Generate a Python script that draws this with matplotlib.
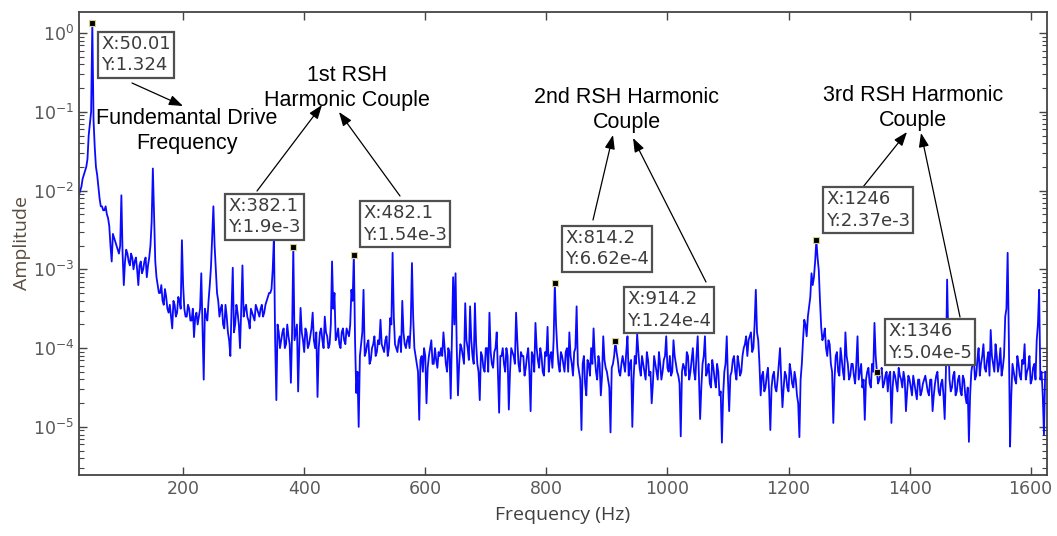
import numpy as np
import matplotlib.pyplot as plt
from matplotlib.ticker import LogLocator, NullFormatter

# spectrum, log10(amplitude) every 4 Hz starting at 26 Hz (one row = 100 Hz)
rows = [
    [-2.10, -2.00, -1.85, -1.75, -1.60, -1.15, 0.122, -1.45, -1.80, -2.10, -2.20, -2.25, -2.30,
     -2.45, -2.90, -2.60, -2.70, -2.80, -2.06, -3.20, -2.75, -2.90, -2.80, -3.00, -2.85],
    [-3.20, -2.90, -3.00, -2.85, -2.95, -2.70, -1.72, -2.90, -3.20, -3.30, -3.40, -3.25, -3.50,
     -3.45, -3.75, -3.45, -3.55, -3.40, -2.63, -3.50, -3.60, -3.50, -3.65, -3.86, -3.55],
    [-3.60, -3.05, -4.40, -3.60, -3.40, -2.97, -2.20, -3.00, -3.40, -3.50, -3.70, -3.45, -3.80,
     -4.10, -2.98, -3.70, -3.55, -4.00, -2.95, -3.50, -3.60, -3.75, -3.55, -3.65, -3.50],
    [-3.60, -3.45, -3.55, -3.40, -3.30, -3.25, -2.59, -4.66, -3.80, -3.90, -3.75, -3.95, -3.85,
     -4.44, -2.72, -3.80, -4.55, -3.49, -3.90, -3.75, -4.00, -3.85, -3.55, -4.00, -4.62],
    [-3.80, -3.90, -3.60, -3.85, -3.95, -2.90, -3.30, -3.85, -3.95, -3.80, -3.90, -3.75, -3.85,
     -3.26, -2.81, -4.57, -5.00, -3.95, -3.26, -4.05, -3.90, -4.15, -3.95, -4.10, -3.90],
    [-3.64, -4.00, -3.90, -4.10, -3.62, -2.79, -3.95, -4.05, -3.85, -3.40, -3.95, -3.90, -4.00,
     -2.92, -4.00, -4.20, -4.91, -4.10, -4.00, -4.70, -4.10, -3.90, -4.20, -4.15, -4.05],
    [-4.00, -3.80, -4.20, -4.00, -4.64, -3.10, -3.05, -4.60, -3.95, -4.10, -3.43, -4.00, -3.47,
     -4.10, -3.43, -4.20, -4.66, -4.10, -4.30, -4.00, -3.55, -4.20, -4.05, -3.80, -4.82],
    [-4.10, -4.20, -4.00, -4.78, -4.00, -4.10, -3.55, -4.20, -4.05, -4.10, -4.25, -4.00, -4.80,
     -4.10, -3.68, -4.15, -4.00, -4.30, -4.05, -3.73, -4.10, -4.25, -3.18, -4.00, -4.30],
    [-4.10, -4.30, -4.00, -3.80, -4.20, -4.05, -3.47, -4.30, -5.04, -4.10, -4.60, -4.20, -4.00,
     -3.75, -4.30, -4.10, -4.60, -3.85, -4.25, -4.40, -5.07, -4.20, -3.91, -4.15, -4.35],
    [-4.10, -4.30, -3.85, -4.20, -5.00, -4.10, -3.82, -4.25, -4.10, -4.30, -4.05, -4.35, -4.70,
     -4.10, -4.30, -4.05, -4.40, -4.15, -3.85, -4.30, -4.35, -3.90, -4.20, -4.35, -5.12],
    [-4.20, -4.35, -4.10, -4.30, -4.00, -4.40, -3.85, -4.90, -4.20, -3.85, -4.30, -4.45, -4.15,
     -4.40, -4.20, -4.60, -5.20, -4.30, -3.85, -4.80, -4.30, -4.10, -4.40, -4.20, -4.30],
    [-4.00, -3.85, -3.90, -3.80, -4.00, -3.26, -3.90, -4.60, -4.30, -4.50, -4.25, -5.04, -4.35,
     -4.50, -4.40, -4.00, -4.75, -4.30, -4.50, -4.20, -4.45, -4.30, -4.60, -5.13, -4.20],
    [-3.64, -3.85, -3.47, -3.05, -3.10, -2.63, -3.01, -3.73, -3.85, -4.00, -3.90, -4.20, -4.95,
     -4.10, -4.30, -4.00, -4.30, -3.80, -4.20, -4.35, -4.20, -4.45, -3.85, -4.30, -4.50],
    [-4.91, -4.30, -4.45, -4.20, -3.68, -4.30, -4.40, -4.25, -4.45, -4.30, -4.35, -4.95, -4.30,
     -4.45, -4.25, -4.40, -4.30, -4.80, -4.35, -4.50, -4.35, -4.55, -4.40, -4.60, -4.45],
    [-4.35, -4.55, -4.40, -4.80, -4.45, -4.30, -4.60, -4.40, -4.90, -3.13, -4.40, -4.50, -4.30,
     -4.55, -4.35, -4.60, -4.40, -4.70, -5.19, -4.30, -4.10, -4.35, -4.00, -4.20, -3.95],
    [-4.30, -4.05, -3.77, -4.20, -3.95, -4.30, -4.00, -4.25, -3.60, -2.79, -5.25, -4.20, -4.40,
     -4.10, -4.35, -4.15, -3.95, -4.30, -4.10, -4.40, -4.20, -3.90, -3.26, -4.30, -5.10],
]
# in-between bins, log10(amplitude) every 4 Hz starting at 28 Hz
rows_mid = [
    [-2.05, -1.95, -1.80, -1.70, -1.30, -1.00, -1.10, -1.70, -1.95, -2.20, -2.25, -2.20, -2.35,
     -2.70, -2.55, -2.65, -2.75, -2.70, -2.80, -2.90, -2.80, -2.95, -2.85, -2.90, -3.00],
    [-2.95, -3.05, -2.90, -3.10, -2.85, -2.40, -2.30, -3.10, -3.30, -3.20, -3.45, -3.35, -3.55,
     -3.60, -3.40, -3.60, -3.35, -3.50, -3.20, -3.60, -3.45, -3.65, -3.50, -3.60, -3.70],
    [-3.50, -3.70, -3.50, -3.65, -3.20, -2.60, -2.70, -3.30, -3.60, -3.45, -3.75, -3.60, -3.90,
     -3.50, -3.80, -3.45, -3.70, -3.50, -3.60, -3.45, -3.65, -3.50, -3.60, -3.45, -3.55],
    [-3.50, -3.60, -3.45, -3.35, -3.30, -3.00, -3.90, -3.70, -4.00, -3.80, -4.00, -3.70, -3.95,
     -3.80, -3.90, -3.70, -3.95, -3.80, -4.05, -3.80, -3.95, -3.75, -3.90, -3.80, -4.00],
    [-3.75, -4.00, -3.80, -4.00, -3.70, -3.50, -3.90, -3.75, -4.00, -3.75, -3.95, -3.80, -3.70,
     -3.40, -3.90, -4.30, -4.10, -3.80, -4.10, -3.95, -4.20, -4.00, -3.85, -4.05, -3.95],
    [-3.95, -4.05, -3.85, -4.00, -3.70, -3.60, -4.00, -3.90, -4.05, -3.80, -4.00, -3.85, -3.70,
     -3.60, -4.10, -4.30, -4.15, -4.30, -4.10, -4.25, -4.00, -4.20, -4.00, -4.25, -4.10],
    [-4.10, -4.00, -4.30, -4.05, -3.90, -3.70, -4.00, -4.20, -4.00, -4.20, -3.90, -4.15, -3.90,
     -4.20, -3.95, -4.30, -4.05, -4.25, -4.00, -4.30, -4.05, -4.25, -4.00, -4.30, -4.10],
    [-4.00, -4.30, -4.10, -4.30, -4.05, -4.20, -3.90, -4.30, -4.10, -4.35, -4.10, -4.30, -4.05,
     -4.30, -4.00, -4.25, -4.10, -4.35, -4.10, -4.30, -4.05, -3.90, -3.70, -4.20, -4.05],
    [-4.20, -4.05, -4.30, -4.10, -4.35, -4.00, -4.20, -4.40, -4.20, -4.45, -4.15, -4.35, -4.20,
     -4.10, -4.40, -4.20, -4.35, -4.15, -4.30, -4.50, -4.25, -4.10, -4.05, -4.30, -4.20],
    [-4.20, -4.05, -4.35, -4.15, -4.40, -4.20, -4.05, -4.35, -4.20, -4.40, -4.15, -4.30, -4.45,
     -4.20, -4.40, -4.20, -4.30, -4.10, -4.25, -4.10, -4.30, -4.10, -4.30, -4.45, -4.30],
    [-4.25, -4.05, -4.40, -4.15, -4.30, -4.10, -4.35, -4.50, -4.10, -4.35, -4.20, -4.50, -4.25,
     -4.50, -4.30, -4.55, -4.60, -4.20, -4.40, -4.35, -4.15, -4.30, -4.10, -4.35, -4.10],
    [-3.95, -4.10, -3.85, -4.05, -3.70, -3.80, -4.20, -4.35, -4.55, -4.35, -4.55, -4.50, -4.30,
     -4.55, -4.20, -4.40, -4.50, -4.35, -4.55, -4.30, -4.50, -4.40, -4.70, -4.40, -3.90],
    [-3.70, -3.60, -3.35, -3.20, -2.90, -2.85, -3.40, -3.90, -3.75, -4.10, -3.95, -4.30, -4.40,
     -4.05, -4.35, -4.15, -4.40, -4.10, -4.40, -4.20, -4.35, -4.20, -4.40, -4.20, -4.40],
    [-4.40, -4.25, -4.50, -4.30, -4.10, -4.45, -4.30, -4.50, -4.35, -4.55, -4.30, -4.50, -4.35,
     -4.55, -4.35, -4.50, -4.40, -4.55, -4.40, -4.60, -4.45, -4.65, -4.40, -4.55, -4.40],
    [-4.45, -4.60, -4.40, -4.60, -4.35, -4.55, -4.45, -4.60, -4.30, -3.90, -4.55, -4.35, -4.60,
     -4.40, -4.55, -4.35, -4.60, -4.50, -4.60, -4.20, -4.40, -4.15, -4.35, -4.10, -4.25],
    [-4.15, -4.35, -4.10, -4.30, -4.10, -4.20, -4.35, -4.10, -3.50, -3.90, -4.60, -4.30, -4.45,
     -4.20, -4.40, -4.20, -4.40, -4.25, -4.45, -4.25, -4.40, -3.70, -4.40, -4.60, -4.30],
]
freq = np.column_stack([np.arange(26, 1626, 4), np.arange(28, 1628, 4)]).ravel()
logamp = np.column_stack([sum(rows, []), sum(rows_mid, [])]).ravel()
amp = 10.0 ** logamp

# data tips
tip_x = [50.01, 382.1, 482.1, 814.2, 914.2, 1246, 1346]
tip_y = [1.324, 1.9e-3, 1.54e-3, 6.62e-4, 1.24e-4, 2.37e-3, 5.04e-5]
tip_xlab = ['50.01', '382.1', '482.1', '814.2', '914.2', '1246', '1346']
tip_ylab = ['1.324', '1.9e-3', '1.54e-3', '6.62e-4', '1.24e-4', '2.37e-3', '5.04e-5']

notes = ['Fundemantal Drive\nFrequency', '1st RSH\nHarmonic Couple',
         '2nd RSH Harmonic\nCouple', '3rd RSH Harmonic\nCouple']

W, H = 1057, 536
fig = plt.figure(figsize=(W / 100, H / 100), dpi=100)
ax = fig.add_axes([79 / W, 1 - 475 / H, (1047 - 79) / W, (475 - 12) / H])

ax.semilogy(freq, amp, color='#0a0aff', lw=1.3)
ax.plot(tip_x, tip_y, 's', ms=4.5, mfc='black', mec='#d8cf8a', mew=0.8, zorder=5)

ax.set_xlim(28, 1627)
ax.set_ylim(2.45e-6, 1.85)
ax.set_xticks([200, 400, 600, 800, 1000, 1200, 1400, 1600])
ax.yaxis.set_major_locator(LogLocator(base=10, numticks=12))
ax.yaxis.set_minor_locator(LogLocator(base=10, subs=np.arange(2, 10), numticks=12))
ax.yaxis.set_minor_formatter(NullFormatter())
ax.tick_params(which='both', direction='in', top=True, right=True, colors='#444444',
               labelcolor='#5a5a5a', labelsize=12.5)
ax.tick_params(which='major', length=6, width=1.0)
ax.tick_params(which='minor', length=3.5, width=0.8)
for s in ax.spines.values():
    s.set_color('#444444')
    s.set_linewidth(1.3)

ax.set_xlabel('Frequency (Hz)', family='Open Sans', fontsize=14, color='#404040')
ax.set_ylabel('Amplitude', family='Open Sans', fontsize=14, color='#5a4c3e')
ax.xaxis.set_label_coords(0.5, -0.068)
ax.yaxis.set_label_coords(-0.05, 0.5)

def P(x, y):
    return (x, H - y)

# data tip boxes (top-left corners in image pixels)
boxes = [(97, 31), (224, 193), (359, 200), (561, 225), (623, 286), (822, 186), (884, 318)]
for (bx, by), xl, yl in zip(boxes, tip_xlab, tip_ylab):
    fig.text((bx + 4) / W, 1 - (by + 4) / H, f'X:{xl}\nY:{yl}', ha='left', va='top',
             fontsize=13, color='#3c3c3c', family='DejaVu Sans', linespacing=1.25,
             bbox=dict(boxstyle='square,pad=0.18', fc='white', ec='#505050', lw=1.6))

# annotation texts
for (cx, cy), t in zip([(187, 131), (347, 88), (627, 110), (913, 108)], notes):
    fig.text(cx / W, 1 - cy / H, t, ha='center', va='center', fontsize=15.5,
             family='Liberation Sans', color='black', linespacing=1.2)

arrows = [((132, 83), (183, 106)),
          ((257, 191), (322, 105)), ((400, 196), (339, 112)),
          ((593, 220), (613, 135)), ((706, 282), (633, 138)),
          ((863, 187), (907, 132)), ((960, 317), (921, 133))]
for tail, head in arrows:
    ax.annotate('', xy=P(*head), xytext=P(*tail), xycoords='figure pixels',
                textcoords='figure pixels', annotation_clip=False,
                arrowprops=dict(arrowstyle='-|>,head_length=0.6,head_width=0.22',
                                color='black', lw=0.9, mutation_scale=14,
                                shrinkA=0, shrinkB=0))

fig.savefig('out.png', dpi=100)
